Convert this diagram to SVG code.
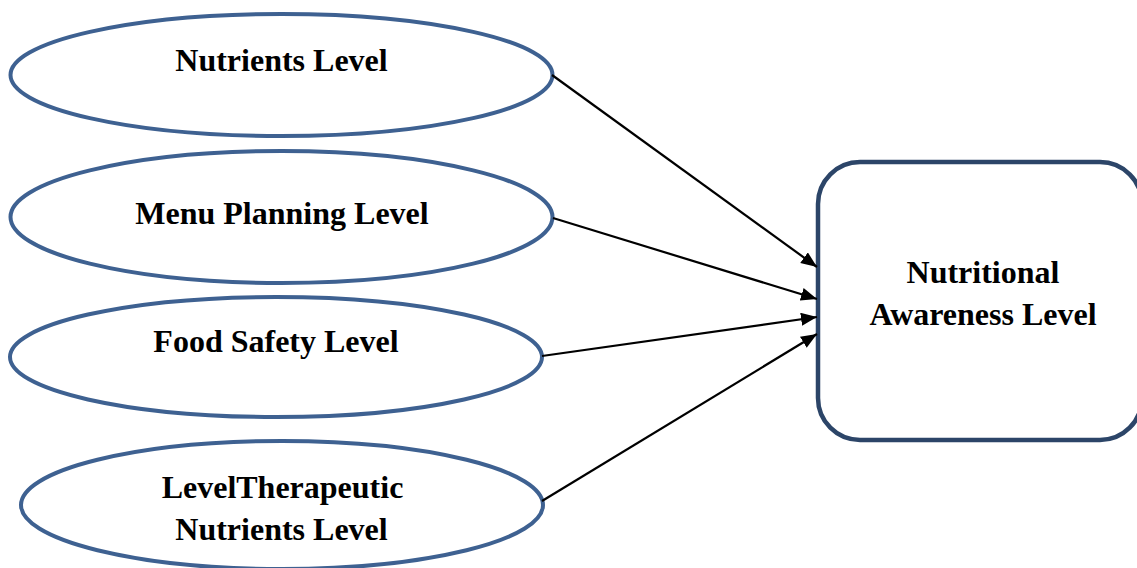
<svg xmlns="http://www.w3.org/2000/svg" width="1137" height="568" viewBox="0 0 1137 568">
<style>
.ell{fill:#fff;stroke:#3E6191;stroke-width:4}
.box{fill:#fff;stroke:#2C4568;stroke-width:4.5}
.lbl{font-family:"Liberation Serif","Times New Roman",serif;font-weight:bold;font-size:32px;fill:#000;text-anchor:middle}
.edge{stroke:#000;stroke-width:2.2;fill:none;marker-end:url(#arr)}
</style>
<defs>
<marker id="arr" markerUnits="userSpaceOnUse" markerWidth="18" markerHeight="14" refX="16" refY="6.5" orient="auto">
<path d="M0,0 L16,6.5 L0,13 z" fill="#000"/>
</marker>
</defs>
<rect width="1137" height="568" fill="#fff"/>
<g id="n1"><ellipse class="ell" cx="281.5" cy="75" rx="271" ry="61"/><text class="lbl" x="281.5" y="71">Nutrients Level</text></g>
<g id="n2"><ellipse class="ell" cx="281.5" cy="217" rx="271" ry="66"/><text class="lbl" x="282" y="224">Menu Planning Level</text></g>
<g id="n3"><ellipse class="ell" cx="276" cy="357" rx="266" ry="60"/><text class="lbl" x="276" y="352">Food Safety Level</text></g>
<g id="n4"><ellipse class="ell" cx="282" cy="505" rx="261" ry="64"/><text class="lbl" x="282.5" y="498">LevelTherapeutic</text><text class="lbl" x="281.5" y="540">Nutrients Level</text></g>
<g id="n5"><rect class="box" x="818" y="162" width="324" height="278" rx="42" ry="42"/><text class="lbl" x="983" y="283">Nutritional</text><text class="lbl" x="983" y="325">Awareness Level</text></g>
<g id="edges">
<line class="edge" x1="552" y1="75" x2="817" y2="267"/>
<line class="edge" x1="553" y1="218" x2="817" y2="299"/>
<line class="edge" x1="542" y1="356" x2="817" y2="317"/>
<line class="edge" x1="542" y1="501" x2="817" y2="334"/>
</g>
</svg>
